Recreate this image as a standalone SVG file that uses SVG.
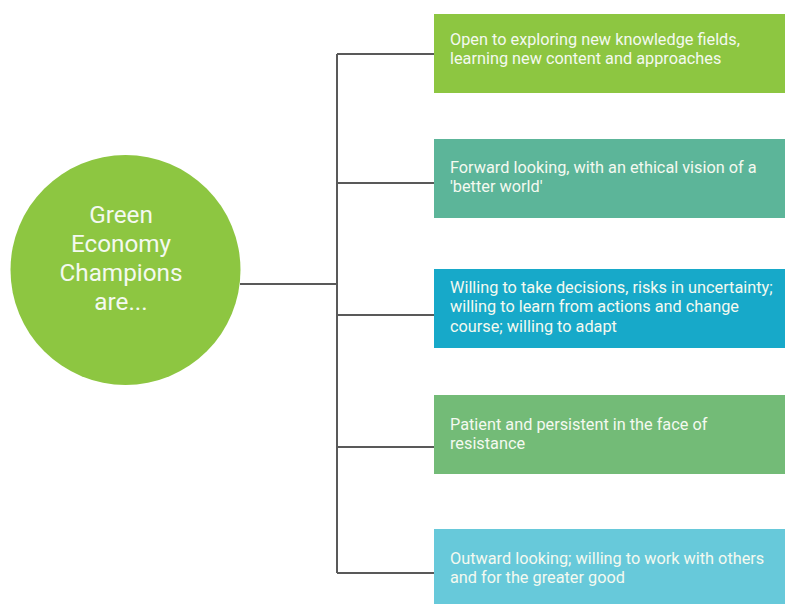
<svg xmlns="http://www.w3.org/2000/svg" width="785" height="604" viewBox="0 0 785 604">
<style>
.t{font-family:Roboto,"Liberation Sans",sans-serif;font-size:16.3px;fill:#F4F9F0}
.c{font-family:Roboto,"Liberation Sans",sans-serif;font-size:24.3px;fill:#F4F9F0;text-anchor:middle}
.ln{stroke:#595959;stroke-width:2;fill:none}
</style>
<rect width="785" height="604" fill="#FFFFFF"/>
<g id="connectors">
<path class="ln" d="M240 284H337M337 54V573M337 54H434M337 183H434M337 315H434M337 447H434M337 573H434"/>
</g>
<g id="center">
<circle cx="125.5" cy="270" r="115" fill="#8DC641"/>
<text class="c" x="121" y="223">Green</text>
<text class="c" x="121" y="252">Economy</text>
<text class="c" x="121" y="281">Champions</text>
<text class="c" x="121" y="310">are...</text>
</g>
<g id="n1">
<rect x="434" y="14" width="351" height="79" fill="#8DC641"/>
<text class="t" x="450" y="45">Open to exploring new knowledge fields,</text>
<text class="t" x="450" y="63.5">learning new content and approaches</text>
</g>
<g id="n2">
<rect x="434" y="139" width="351" height="79" fill="#5CB599"/>
<text class="t" x="450" y="173">Forward looking, with an ethical vision of a</text>
<text class="t" x="450" y="192">'better world'</text>
</g>
<g id="n3">
<rect x="434" y="269" width="351" height="79" fill="#17A9C9"/>
<text class="t" x="450" y="292.5">Willing to take decisions, risks in uncertainty;</text>
<text class="t" x="450" y="312">willing to learn from actions and change</text>
<text class="t" x="450" y="331.5">course; willing to adapt</text>
</g>
<g id="n4">
<rect x="434" y="395" width="351" height="79" fill="#73BB77"/>
<text class="t" x="450" y="430">Patient and persistent in the face of</text>
<text class="t" x="450" y="449">resistance</text>
</g>
<g id="n5">
<rect x="434" y="529" width="351" height="75" fill="#67C9DA"/>
<text class="t" x="450" y="564">Outward looking; willing to work with others</text>
<text class="t" x="450" y="583">and for the greater good</text>
</g>
</svg>
